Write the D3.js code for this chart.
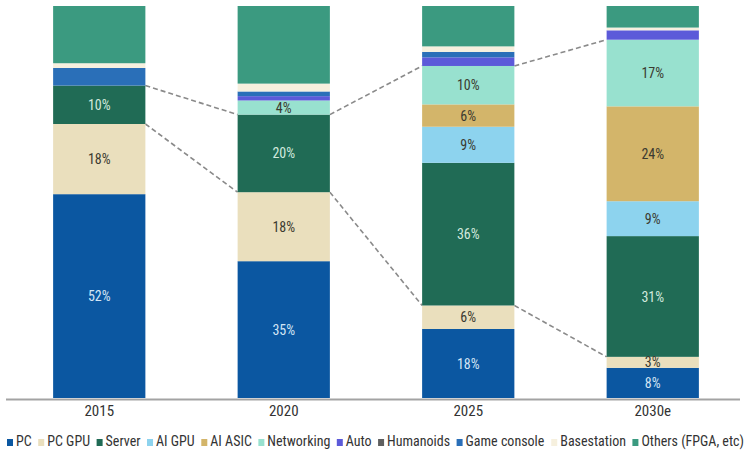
<!DOCTYPE html>
<html><head><meta charset="utf-8">
<script src="https://cdn.jsdelivr.net/npm/d3@7"></script>
<style>
html,body{margin:0;padding:0;background:#fff;}
svg{display:block;font-family:"Liberation Sans Narrow","Roboto Condensed","Arial Narrow",Roboto,sans-serif;}
</style></head>
<body><svg id="chart" width="748" height="454"></svg>
<script>
const years = ["2015", "2020", "2025", "2030e"];
const seriesNames = ["PC", "PC GPU", "Server", "AI GPU", "AI ASIC", "Networking", "Auto", "Humanoids", "Game console", "Basestation", "Others (FPGA, etc)"];
const seriesColors = ["#0b57a1", "#eadfbd", "#206b55", "#8dd3ee", "#d3b56a", "#98e1cf", "#5c5ad9", "#5f5f5f", "#2a6fb8", "#f6f0de", "#3b9a80"];
const pc          = [52.0, 34.9, 17.6, 7.7];
const pcGpu       = [17.9, 17.6, 6.0, 2.8];
const server      = [9.8, 19.8, 36.4, 30.8];
const aiGpu       = [0, 0, 9.2, 8.9];
const aiAsic      = [0, 0, 5.7, 24.2];
const networking  = [0, 3.6, 9.8, 17.0];
const auto        = [0, 1.1, 2.2, 2.4];
const humanoids   = [0, 0, 0, 0];
const gameConsole = [4.5, 1.2, 1.4, 0];
const basestation = [1.2, 2.0, 1.4, 0.7];
const others      = [14.6, 19.8, 10.3, 5.5];
const labeledSeries = ["PC", "PC GPU", "Server", "AI GPU", "AI ASIC", "Networking"];
// connector: upper edge = top of this series, lower edge = bottom of "Server"
const connectorTop = ["Server", "Server", "Networking", "Networking"];

const seriesValues = [pc, pcGpu, server, aiGpu, aiAsic, networking, auto, humanoids, gameConsole, basestation, others];
const table = years.map((y, i) => {
  const row = {year: y};
  seriesNames.forEach((s, k) => row[s] = seriesValues[k][i]);
  return row;
});

const svg = d3.select("#chart");
const x = d3.scaleBand().domain(years).range([7, 745]).paddingInner(0.5).paddingOuter(0.25);
const y = d3.scaleLinear().domain([0, 100]).range([398, 6]);
const color = d3.scaleOrdinal().domain(seriesNames).range(seriesColors);

const stack = d3.stack().keys(seriesNames)(table);

// connectors
const serIdx = seriesNames.indexOf("Server");
const conn = svg.append("g");
for (let i = 0; i < years.length - 1; i++) {
  const a = years[i], b = years[i + 1];
  const topA = stack[seriesNames.indexOf(connectorTop[i])][i][1];
  const topB = stack[seriesNames.indexOf(connectorTop[i + 1])][i + 1][1];
  const botA = stack[serIdx][i][0], botB = stack[serIdx][i + 1][0];
  [[topA, topB], [botA, botB]].forEach(([va, vb]) => {
    conn.append("line")
      .attr("x1", x(a) + x.bandwidth()).attr("y1", y(va))
      .attr("x2", x(b)).attr("y2", y(vb))
      .attr("stroke", "#8a8a8a").attr("stroke-width", 1.6)
      .attr("stroke-dasharray", "5,3");
  });
}

// bars
const layers = svg.append("g").selectAll("g").data(stack).join("g")
  .attr("fill", d => color(d.key));
layers.selectAll("rect").data(d => d).join("rect")
  .attr("x", d => x(d.data.year))
  .attr("width", x.bandwidth())
  .attr("y", d => y(d[1]))
  .attr("height", d => Math.max(0, y(d[0]) - y(d[1])));

// labels
const lightText = {"PC": "#d3e5f5", "Server": "#d2e9de"};
const lab = svg.append("g").attr("font-size", 14).attr("text-anchor", "middle");
stack.forEach(layer => {
  if (!labeledSeries.includes(layer.key)) return;
  layer.forEach(d => {
    const v = d[1] - d[0];
    if (v < 2.5) return;
    lab.append("text")
      .attr("x", x(d.data.year) + x.bandwidth() / 2)
      .attr("y", y((d[0] + d[1]) / 2))
      .attr("dy", "0.36em")
      .attr("fill", lightText[layer.key] || "#3b3a30")
      .text(d3.format(".0f")(v) + "%");
  });
});

// x axis
svg.append("line").attr("x1", 6).attr("x2", 740).attr("y1", 399.5).attr("y2", 399.5)
  .attr("stroke", "#a3a3a3").attr("stroke-width", 2);
svg.append("g").selectAll("text").data(years).join("text")
  .attr("x", d => x(d) + x.bandwidth() / 2)
  .attr("y", 415.5)
  .attr("text-anchor", "middle")
  .attr("font-size", 15)
  .attr("fill", "#333")
  .text(d => d);

// legend
const lg = svg.append("g");
const items = lg.selectAll("g").data(seriesNames).join("g");
items.append("rect").attr("width", 6).attr("height", 7).attr("y", -6)
  .attr("fill", d => color(d));
items.append("text").attr("x", 9).attr("y", 0.5).attr("font-size", 14).attr("fill", "#333").text(d => d);
const widths = [];
items.each(function () { widths.push(this.getBBox().width); });
const startX = 7, endX = 744;
const totalW = d3.sum(widths);
const gap = (endX - startX - totalW) / (seriesNames.length - 1);
let cx = startX;
items.each(function (d, i) {
  d3.select(this).attr("transform", `translate(${cx},445)`);
  cx += widths[i] + gap;
});
</script>
</body></html>
